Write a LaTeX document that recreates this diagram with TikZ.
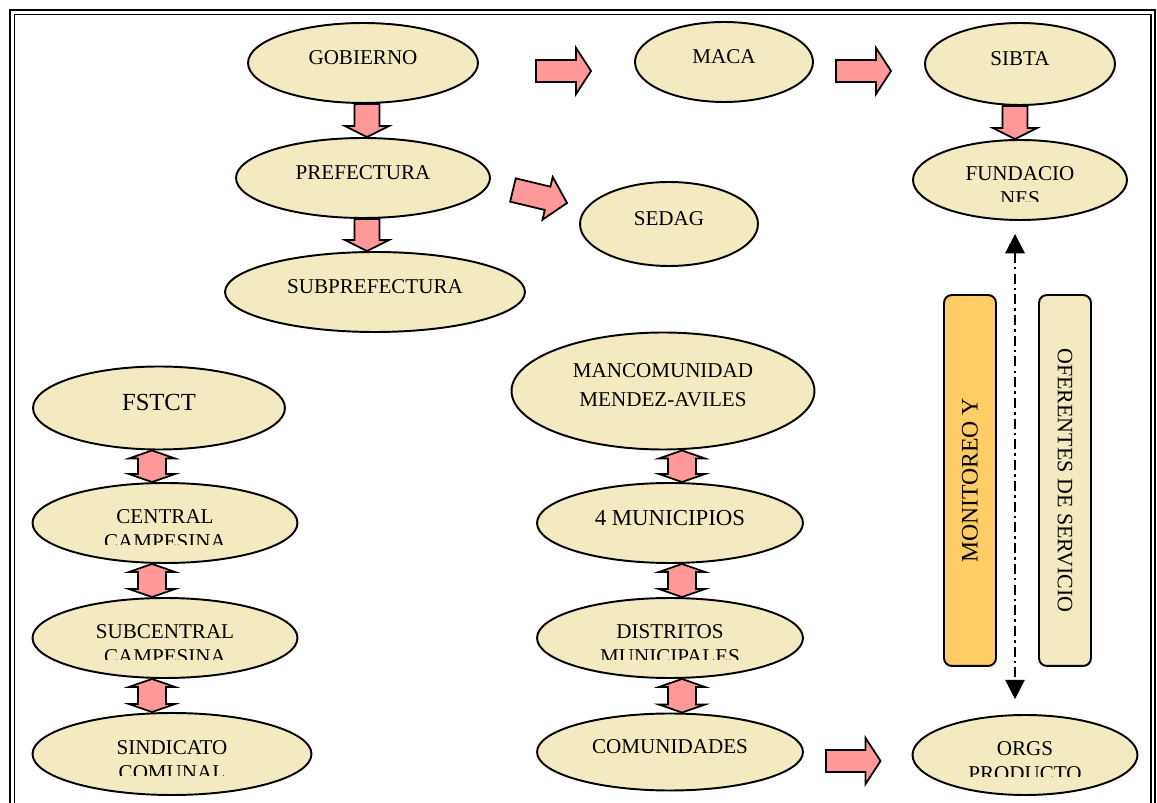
\documentclass[tikz,border=0pt]{standalone}
\usepackage{fontspec}
\setmainfont{Liberation Serif}
\usetikzlibrary{shapes,calc,arrows.meta}
\definecolor{ovalfill}{RGB}{243,234,194}
\definecolor{arrowpink}{RGB}{255,153,153}
\definecolor{boxorange}{RGB}{255,204,102}
\newcommand\cutline[1]{\tikz[baseline=0pt]{\path[overlay,clip] (-4cm,2pt) rectangle (4cm,12pt);
    \node[inner sep=0pt,anchor=base] at (0pt,0pt) {#1};}}
\newcommand\blockarrow[5]{
    \coordinate (ba-t) at (#1);
    \coordinate (ba-h) at (#2);
    \coordinate (ba-n) at ($(ba-h)!#5*0.02cm!(ba-t)$);
    \filldraw[blockarr] ($(ba-t)!#3*0.02cm!90:(ba-h)$) -- ($(ba-n)!#3*0.02cm!90:(ba-h)$)
    -- ($(ba-n)!#4*0.02cm!90:(ba-h)$) -- (ba-h) -- ($(ba-n)!#4*0.02cm!-90:(ba-h)$)
    -- ($(ba-n)!#3*0.02cm!-90:(ba-h)$) -- ($(ba-t)!#3*0.02cm!-90:(ba-h)$) -- cycle;
}
\newcommand\dblarrow[5]{
    \coordinate (ba-t) at (#1);
    \coordinate (ba-h) at (#2);
    \coordinate (ba-m) at ($(ba-t)!#5*0.02cm!(ba-h)$);
    \coordinate (ba-n) at ($(ba-h)!#5*0.02cm!(ba-t)$);
    \filldraw[blockarr] ($(ba-m)!#3*0.02cm!90:(ba-h)$) -- ($(ba-n)!#3*0.02cm!90:(ba-h)$)
    -- ($(ba-n)!#4*0.02cm!90:(ba-h)$) -- (ba-h) -- ($(ba-n)!#4*0.02cm!-90:(ba-h)$)
    -- ($(ba-n)!#3*0.02cm!-90:(ba-h)$) -- ($(ba-m)!#3*0.02cm!-90:(ba-h)$)
    -- ($(ba-m)!#4*0.02cm!-90:(ba-h)$) -- (ba-t) -- ($(ba-m)!#4*0.02cm!90:(ba-h)$) -- cycle;
}
\tikzset{
    oval/.style 2 args={ellipse, draw, fill=ovalfill, line width=1.1pt, inner sep=0pt,
        align=center, minimum width=#1, minimum height=#2, font=\fontsize{12}{14.2}\selectfont},
    oneline/.style={text depth=6pt},
    twoline/.style={text height=29pt},
    blockarr/.style={fill=arrowpink, draw=black, line width=1pt, line join=miter},
    sidebox/.style={rectangle, rounded corners=4.5pt, draw, line width=1.1pt, inner sep=0pt,
        minimum width=7.42cm, minimum height=1.04cm},
    dashdot/.style={line width=1.1pt, dash pattern=on 5.7pt off 2.3pt on 1.5pt off 2.3pt,
        {Triangle[width=11pt,length=11pt]}-{Triangle[width=11pt,length=11pt]},
        shorten <=7.4pt, shorten >=8.5pt}
}

\begin{document}
\begin{tikzpicture}[x=0.02cm,y=-0.02cm]
    \useasboundingbox (0,0) rectangle (1157,803);
    \draw[line width=1.5pt] (10,10) rectangle (1155,860);
    \draw[line width=1.1pt] (14.5,14.5) rectangle (1151,860);

    \node[oval={4.6cm}{1.6cm}, oneline] (gob) at (363,63) {GOBIERNO};
    \node[oval={3.56cm}{1.6cm}, oneline] (maca) at (724,62) {MACA};
    \node[oval={3.8cm}{1.64cm}, oneline] (sibta) at (1020,64) {SIBTA};
    \node[oval={5.08cm}{1.6cm}, oneline] (pref) at (363,178) {PREFECTURA};
    \node[oval={3.56cm}{1.68cm}, oneline] (sedag) at (669,224) {SEDAG};
    \node[oval={4.28cm}{1.6cm}, twoline] (fund) at (1020,180) {FUNDACIO\\\cutline{NES}};
    \node[oval={6cm}{1.6cm}, oneline] (subpref) at (375,292) {SUBPREFECTURA};

    \node[oval={5.04cm}{1.66cm}, oneline, font=\fontsize{14}{16}\selectfont] (fstct) at (159,408) {FSTCT};
    \node[oval={5.3cm}{1.6cm}, twoline] (cen) at (165,523) {CENTRAL\\\cutline{CAMPESINA}};
    \node[oval={5.3cm}{1.6cm}, twoline] (subc) at (165,638) {SUBCENTRAL\\\cutline{CAMPESINA}};
    \node[oval={5.58cm}{1.64cm}, twoline] (sind) at (172,754) {SINDICATO\\\cutline{COMUNAL}};

    \node[oval={6.06cm}{2.34cm}, text height=18.2pt, font=\fontsize{12}{16.5}\selectfont] (manc) at (663,391) {MANCOMUNIDAD\\MENDEZ-AVILES};
    \node[oval={5.32cm}{1.6cm}, oneline, font=\fontsize{13}{15}\selectfont] (mun) at (670,523) {4 MUNICIPIOS};
    \node[oval={5.32cm}{1.6cm}, twoline] (dis) at (670,638) {DISTRITOS\\\cutline{MUNICIPALES}};
    \node[oval={5.32cm}{1.54cm}, oneline] (com) at (670,752) {COMUNIDADES};
    \node[oval={4.5cm}{1.6cm}, twoline] (orgs) at (1025,755) {ORGS\\\cutline{PRODUCTO}};

    \node[sidebox, fill=boxorange, rotate=90, font=\fontsize{13.5}{16}\selectfont] (mon) at (970,480.5) {MONITOREO Y};
    \node[sidebox, fill=ovalfill, rotate=-90, font=\fontsize{12.5}{15}\selectfont] (ofe) at (1065,480.5) {OFERENTES DE SERVICIO};
    \coordinate (link) at (1015,480);
    \draw[dashdot] (fund.south -| link) -- (orgs.north -| link);

    \blockarrow{$(gob.east)+(57,8)$}{$(maca.west)+(-43,9)$}{11}{23}{15}
    \blockarrow{$(maca.east)+(22,9)$}{$(sibta.west)+(-33,7)$}{11}{23}{15}
    \blockarrow{$(gob.south)+(4,0)$}{$(pref.north)+(4,0)$}{12.5}{22}{11}
    \blockarrow{$(pref.south)+(4,0)$}{$(subpref.north)+(-8,0)$}{12.5}{22}{11}
    \blockarrow{$(pref.east)+(22,12)$}{$(sedag.west)+(-12,-21)$}{12}{22}{20}
    \blockarrow{$(sibta.south)+(-5,0)$}{$(fund.north)+(-5,0)$}{12.5}{22}{11}
    \blockarrow{$(com.east)+(22,9)$}{$(orgs.west)+(-31,6)$}{11}{23}{15}

    \dblarrow{$(fstct.south)+(-7,0)$}{$(cen.north)+(-13,0)$}{14}{23}{8}
    \dblarrow{$(cen.south)+(-13,0)$}{$(subc.north)+(-13,0)$}{14}{23}{8}
    \dblarrow{$(subc.south)+(-13,0)$}{$(sind.north)+(-20,0)$}{14}{23}{8}
    \dblarrow{$(manc.south)+(19,0)$}{$(mun.north)+(12,0)$}{14}{23}{8}
    \dblarrow{$(mun.south)+(12,0)$}{$(dis.north)+(12,0)$}{14}{23}{8}
    \dblarrow{$(dis.south)+(12,0)$}{$(com.north)+(12,0)$}{14}{23}{8}
\end{tikzpicture}
\end{document}
